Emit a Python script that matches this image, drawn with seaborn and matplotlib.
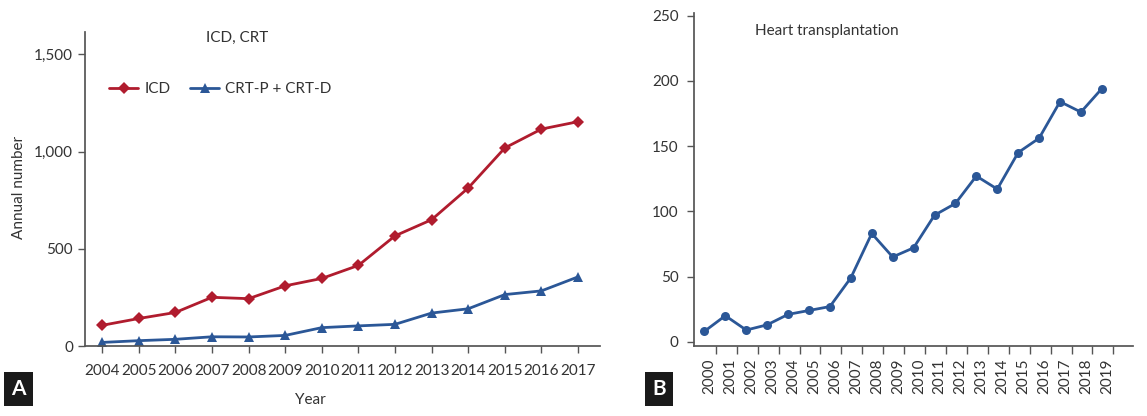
import numpy as np
import pandas as pd
import matplotlib
matplotlib.use("Agg")
import matplotlib.pyplot as plt
import seaborn as sns
from matplotlib.ticker import FuncFormatter, FixedLocator

# Panel A: ICD / CRT annual numbers
years_a = list(range(2004, 2018))
icd = [107, 142, 173, 251, 244, 310, 348, 415, 567, 650, 813, 1019, 1116, 1154]
crt = [19, 28, 35, 48, 47, 55, 95, 104, 112, 170, 192, 265, 284, 356]
series_names = ["ICD", "CRT-P + CRT-D"]

# Panel B: heart transplantation
years_b = list(range(2000, 2020))
heart = [8, 20, 9, 13, 21, 24, 27, 49, 83, 65, 72, 97, 106, 127, 117, 145, 156, 184, 176, 194]

RED = "#b01c2e"
BLUE = "#2b5797"
INK = "#333333"
FS = 11

sns.set_theme(style="ticks")
plt.rcParams["font.family"] = ["Lato", "DejaVu Sans"]
plt.rcParams["axes.edgecolor"] = "#555555"
plt.rcParams["xtick.color"] = "#555555"
plt.rcParams["ytick.color"] = "#555555"

fig = plt.figure(figsize=(11.47, 4.16), dpi=100)
ax1 = fig.add_axes([0.0741, 0.168, 0.449, 0.755])
ax2 = fig.add_axes([0.605, 0.168, 0.383, 0.801])

# ---- panel A
df_a = pd.DataFrame({
    "year": years_a * 2,
    "value": icd + crt,
    "series": [series_names[0]] * len(years_a) + [series_names[1]] * len(years_a),
})
sns.lineplot(data=df_a, x="year", y="value", hue="series", style="series",
             palette=[RED, BLUE], markers=["D", "^"], dashes=False,
             markersize=6.5, markeredgewidth=0, linewidth=2, ax=ax1)
ax1.set_xlim(2003.53, 2017.6)
ax1.set_ylim(0, 1615)
ax1.set_xticks(years_a)
ax1.set_yticks([0, 500, 1000, 1500])
ax1.yaxis.set_major_formatter(FuncFormatter(lambda v, p: f"{int(v):,}"))
ax1.tick_params(labelsize=FS, labelcolor=INK, length=5, width=1)
ax1.tick_params(axis="x", pad=8)
ax1.set_xlabel("Year", fontsize=FS, color=INK)
ax1.xaxis.set_label_coords(0.437, -0.15)
ax1.set_ylabel("Annual number", fontsize=FS, color=INK)
ax1.yaxis.set_label_coords(-0.115, 0.506)
for s in ["top", "right"]:
    ax1.spines[s].set_visible(False)
ax1.text(0.295, 0.98, "ICD, CRT", transform=ax1.transAxes, ha="center", va="center",
         fontsize=FS, color=INK)
leg = ax1.legend(loc="upper left", bbox_to_anchor=(0.035, 0.86), ncol=2, frameon=False,
                 fontsize=FS, handlelength=1.9, handletextpad=0.4, columnspacing=1.3,
                 borderaxespad=0)
for t in leg.get_texts():
    t.set_color(INK)

# ---- panel B
df_b = pd.DataFrame({"idx": np.arange(len(years_b)), "value": heart})
sns.lineplot(data=df_b, x="idx", y="value", color=BLUE, marker="o", markersize=6.5,
             markeredgewidth=0, linewidth=2, ax=ax2)
ax2.set_xlim(-0.5, 20.5)
ax2.set_ylim(-3.3, 252)
ax2.set_yticks([0, 50, 100, 150, 200, 250])
ax2.xaxis.set_major_locator(FixedLocator(np.arange(len(years_b)) + 0.25))
ax2.set_xticklabels([str(y) for y in years_b], rotation=90)
ax2.xaxis.set_minor_locator(FixedLocator(np.arange(len(years_b)) + 0.55))
ax2.tick_params(axis="x", which="major", length=0, pad=9)
ax2.tick_params(axis="x", which="minor", length=6, width=1)
ax2.tick_params(labelsize=FS, labelcolor=INK)
ax2.tick_params(axis="y", length=5, width=1, pad=6)
ax2.set_xlabel("")
ax2.set_ylabel("")
for s in ["top", "right"]:
    ax2.spines[s].set_visible(False)
ax2.text(0.14, 0.945, "Heart transplantation", transform=ax2.transAxes, ha="left",
         va="center", fontsize=FS, color=INK)

# panel letters
for x, lab in [(0.0095, "A"), (0.5685, "B")]:
    fig.text(x, 0.065, lab, fontsize=15, fontweight="bold", color="white",
             ha="left", va="center",
             bbox=dict(boxstyle="square,pad=0.35", fc="#1a1a1a", ec="none"))

fig.savefig("out.png", dpi=100)
